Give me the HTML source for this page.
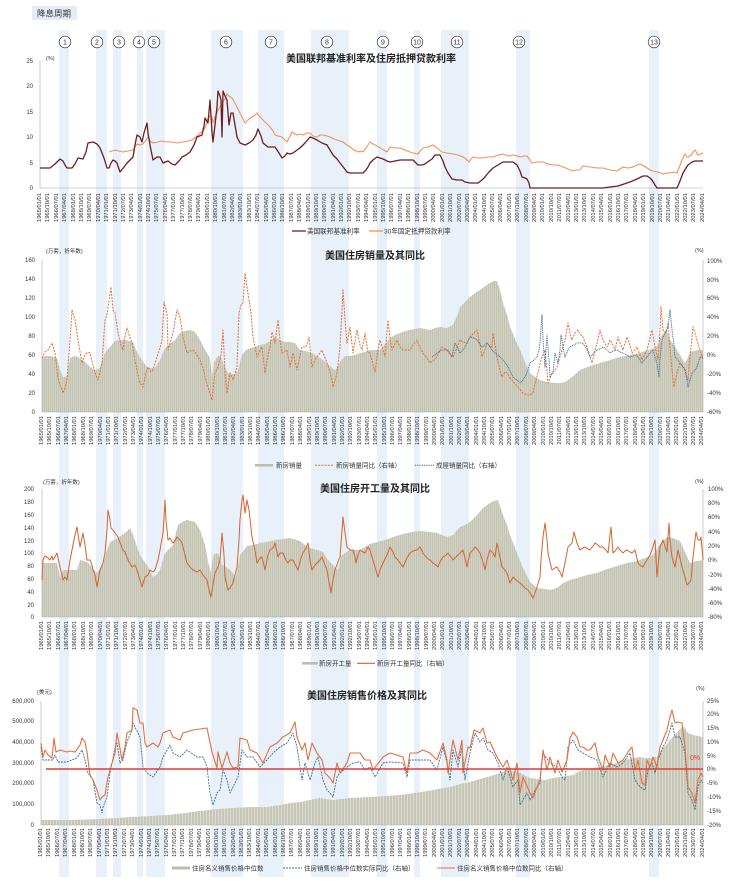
<!DOCTYPE html>
<html><head><meta charset="utf-8">
<style>
html,body{margin:0;padding:0;background:#fff;}
body{width:740px;height:886px;position:relative;overflow:hidden;font-family:"Liberation Sans","Noto Sans CJK SC",sans-serif;}
svg{position:absolute;left:0;top:0;}
.xl{position:absolute;display:flex;justify-content:space-between;align-items:flex-start;height:32px;}
.xl span{display:block;writing-mode:vertical-rl;transform:rotate(180deg);font-size:5.8px;line-height:6px;width:6px;color:#333;white-space:nowrap;}
</style></head><body>
<svg width="740" height="886" viewBox="0 0 740 886" xmlns="http://www.w3.org/2000/svg" font-family="Liberation Sans, Noto Sans CJK SC, sans-serif">
<defs>
<pattern id="bp" width="2" height="10" patternUnits="userSpaceOnUse"><rect width="2" height="10" fill="#d8d8cc"/><rect width="1.3" height="10" fill="#c3c3b3"/></pattern>
<pattern id="bp4" width="3" height="10" patternUnits="userSpaceOnUse"><rect width="3" height="10" fill="#e2e2d8"/><rect width="2.2" height="10" fill="#c6c6b7"/></pattern>
</defs>
<!-- bands -->
<g fill="#e8f0f9">
<rect x="59" y="30" width="10" height="847"/>
<rect x="96" y="30" width="11" height="847"/>
<rect x="113" y="30" width="8" height="847"/>
<rect x="137" y="30" width="6" height="847"/>
<rect x="146" y="30" width="19" height="847"/>
<rect x="211" y="30" width="32" height="847"/>
<rect x="258" y="30" width="26" height="847"/>
<rect x="311" y="30" width="38" height="847"/>
<rect x="377" y="30" width="10" height="847"/>
<rect x="414" y="30" width="6" height="847"/>
<rect x="441" y="30" width="28" height="847"/>
<rect x="516" y="30" width="14" height="847"/>
<rect x="649" y="30" width="10" height="847"/>
</g>
<!-- header label -->
<rect x="32" y="6" width="45" height="14" fill="#e4ecf5"/>
<text x="37" y="16.5" font-size="8.5" fill="#333">降息周期</text>
<!-- circles -->
<g fill="#fff" stroke="#333" stroke-width="0.7">
<circle cx="65" cy="42" r="5.8"/><circle cx="97" cy="42" r="5.8"/><circle cx="119" cy="42" r="5.8"/><circle cx="139" cy="42" r="5.8"/><circle cx="154" cy="42" r="5.8"/><circle cx="226" cy="42" r="5.8"/><circle cx="271" cy="42" r="5.8"/><circle cx="327" cy="42" r="5.8"/><circle cx="383" cy="42" r="5.8"/><circle cx="417" cy="42" r="5.8"/><circle cx="457" cy="42" r="5.8"/><circle cx="519" cy="42" r="5.8"/><circle cx="654" cy="42" r="5.8"/>
</g>
<g font-size="7" fill="#333" text-anchor="middle">
<text x="65" y="44.5">1</text><text x="97" y="44.5">2</text><text x="119" y="44.5">3</text><text x="139" y="44.5">4</text><text x="154" y="44.5">5</text><text x="226" y="44.5">6</text><text x="271" y="44.5">7</text><text x="327" y="44.5">8</text><text x="383" y="44.5">9</text><text x="417" y="44.5">10</text><text x="457" y="44.5">11</text><text x="519" y="44.5">12</text><text x="654" y="44.5">13</text>
</g>

<!-- ================= CHART 1 ================= -->
<text x="371" y="62" font-size="10" font-weight="bold" fill="#222" text-anchor="middle">美国联邦基准利率及住房抵押贷款利率</text>
<text x="46" y="60" font-size="5.5" fill="#333">(%)</text>
<g font-size="6" fill="#333" text-anchor="end">
<text x="33" y="63">25</text><text x="33" y="88">20</text><text x="33" y="114">15</text><text x="33" y="139">10</text><text x="33" y="165">5</text><text x="33" y="190">0</text>
</g>
<line x1="40" y1="61" x2="40" y2="188" stroke="#aaa" stroke-width="0.6"/>
<line x1="40" y1="188" x2="703" y2="188" stroke="#aaa" stroke-width="0.6"/>
<polyline fill="none" stroke="#f0915a" stroke-width="1.1" stroke-linejoin="round" points="109,152 112,151 115,150 119,151 123,152 128,151 133,150 137,144 140,145 143,144 146,140 148,137 150,141 153,143 158,142 162,141 167,142 172,142 177,143 183,142 188,141 192,140 196,137 200,133 203,131 205,128 207,122 208,118 210,116 212,117 213,123 215,117 218,110 220,107 222,103 225,99 227,94 229,96 232,98 236,105 240,113 243,119 245,123 248,120 250,118 254,116 257,113 260,117 263,120 266,123 270,127 273,131 275,135 278,136 282,137 285,140 287,142 290,136 292,132 295,134 297,135 300,134 303,135 307,133 310,133 313,136 317,137 320,135 323,135 327,136 330,137 334,139 337,140 340,141 343,142 347,145 350,147 354,150 358,152 361,151 363,152 366,148 368,145 370,142 373,144 377,146 382,149 387,152 390,147 395,148 400,148 405,150 410,152 413,153 418,154 421,150 423,148 428,147 433,145 437,148 442,152 447,153 453,154 458,155 463,157 466,159 469,162 471,159 473,157 478,158 483,158 488,157 493,157 498,155 503,154 508,156 513,155 517,156 520,157 524,156 527,156 530,160 532,163 537,162 543,162 548,164 553,165 558,165 563,167 568,169 573,171 577,170 580,170 582,167 583,166 590,167 597,168 603,168 610,170 617,171 620,169 623,167 628,168 633,167 637,165 640,164 644,166 647,168 650,170 653,171 658,172 663,174 667,173 670,173 674,172 677,173 679,168 682,160 684,156 685,154 687,157 688,157 691,155 693,152 695,150 697,153 698,155 701,154 703,153"/>
<polyline fill="none" stroke="#6d1f1f" stroke-width="1.3" stroke-linejoin="round" points="40,168 45,168 50,168 55,164 60,159 63,161 65,165 67,168 72,168 75,164 78,158 83,159 86,152 88,143 93,142 97,144 100,148 104,158 107,168 109,168 111,163 113,160 115,161 117,163 120,172 124,167 127,163 130,160 133,157 135,145 137,135 140,137 142,142 144,133 147,123 148,133 150,145 153,160 157,157 160,157 163,163 168,161 172,164 175,165 179,161 182,157 186,155 190,152 194,145 197,137 202,135 204,126 205,118 208,123 210,100 211,117 212,132 213,142 215,125 217,107 218,91 220,96 221,100 222,137 223,91 225,96 227,100 229,125 231,113 233,113 235,125 237,137 240,143 245,145 249,143 253,140 256,135 258,129 261,136 263,143 268,147 272,147 275,147 279,153 282,158 285,156 287,153 290,154 293,153 297,150 300,148 305,143 310,137 313,138 317,140 322,143 327,145 330,150 333,155 337,159 340,163 344,168 347,172 350,173 353,173 358,173 363,173 366,170 368,167 370,163 373,160 377,157 380,158 383,159 387,161 390,162 395,161 400,160 406,160 413,160 416,163 418,165 422,165 425,164 429,161 432,159 435,155 440,155 443,161 445,167 448,173 452,179 457,180 462,180 465,182 470,183 474,183 478,183 482,180 485,177 489,172 493,168 498,165 503,162 508,162 513,162 517,165 520,171 522,177 525,178 527,179 529,183 530,188 560,188 590,188 603,188 610,187 618,186 624,184 630,182 637,179 643,176 647,176 650,178 652,180 655,185 657,188 667,188 677,188 680,181 683,173 686,168 688,165 692,162 695,161 700,161 703,161"/>
<!-- legend 1 -->
<line x1="292" y1="231" x2="306" y2="231" stroke="#6d1f1f" stroke-width="1.3"/>
<text x="307" y="233.5" font-size="6.6" fill="#333">美国联邦基准利率</text>
<line x1="369" y1="231" x2="383" y2="231" stroke="#f0915a" stroke-width="1.3"/>
<text x="384" y="233.5" font-size="6.6" fill="#333">30年固定抵押贷款利率</text>

<!-- ================= CHART 2 ================= -->
<text x="375" y="259" font-size="10" font-weight="bold" fill="#222" text-anchor="middle">美国住房销量及其同比</text>
<text x="46" y="253" font-size="5.5" fill="#333">(万套，折年数)</text>
<text x="695" y="252" font-size="5.5" fill="#333">(%)</text>
<polygon fill="url(#bp)" points="42,357 46,356 50,356 54,357 57,358 60,370 63,377 67,376 70,358 74,356 78,357 82,360 85,362 90,367 95,370 100,368 104,355 107,350 110,347 115,341 120,340 125,340 129,341 133,342 137,352 142,360 147,367 151,368 155,368 160,360 165,348 170,344 175,340 180,333 185,331 190,330 195,332 200,340 205,350 210,358 212,377 214,362 217,357 220,355 224,365 228,373 232,374 235,374 238,370 242,355 246,350 250,348 255,347 260,345 265,344 270,341 275,337 280,340 285,342 290,342 295,343 300,350 305,351 310,352 315,355 320,358 324,361 328,364 332,368 335,370 338,366 340,362 345,356 350,356 355,355 360,353 365,352 370,350 375,350 380,350 385,344 390,338 395,335 400,333 405,331 410,330 415,329 420,328 425,329 430,330 435,328 440,327 447,328 453,325 457,316 460,307 465,302 470,297 475,293 480,290 485,286 490,283 494,281 497,281 500,290 503,303 507,315 510,327 515,339 520,350 525,362 530,373 535,377 540,380 547,382 555,383 560,383 565,382 572,377 580,370 590,366 600,363 610,360 620,357 630,355 640,353 645,351 650,350 655,348 658,345 660,338 662,335 666,330 668,334 670,340 675,347 680,355 685,363 688,357 690,352 697,350 703,350 703,412 42,412"/>
<line x1="42" y1="260" x2="42" y2="412" stroke="#aaa" stroke-width="0.6"/>
<line x1="703" y1="260" x2="703" y2="412" stroke="#aaa" stroke-width="0.6"/>
<line x1="42" y1="412" x2="703" y2="412" stroke="#aaa" stroke-width="0.6"/>
<g font-size="6" fill="#333" text-anchor="end">
<text x="35" y="262">160</text><text x="35" y="281">140</text><text x="35" y="300">120</text><text x="35" y="319">100</text><text x="35" y="338">80</text><text x="35" y="357">60</text><text x="35" y="376">40</text><text x="35" y="395">20</text><text x="35" y="414">0</text>
</g>
<g font-size="6" fill="#333">
<text x="707" y="263">100%</text><text x="707" y="282">80%</text><text x="707" y="300">60%</text><text x="707" y="319">40%</text><text x="707" y="338">20%</text><text x="707" y="357">0%</text><text x="707" y="376">-20%</text><text x="707" y="395">-40%</text><text x="707" y="414">-60%</text>
</g>
<polyline fill="none" stroke="#e0703a" stroke-width="1" stroke-dasharray="2,1.2" stroke-linejoin="round" points="42,358 45,352 48,350 52,343 55,353 58,378 60,385 62,390 63,393 65,388 67,380 70,340 72,310 75,320 78,340 82,363 85,355 88,352 90,353 93,365 95,373 98,380 102,363 105,320 107,315 109,300 111,287 113,310 115,313 118,333 121,345 123,350 125,336 127,328 130,338 132,343 135,360 138,375 140,383 143,387 146,373 148,367 151,372 153,370 157,357 160,348 162,340 164,302 167,313 168,350 171,340 173,333 177,310 180,317 183,337 187,353 190,351 193,350 197,355 200,360 203,368 205,377 208,387 212,400 215,373 218,367 221,355 223,330 225,373 227,393 230,373 233,380 237,367 239,313 241,305 243,303 245,273 247,287 249,300 251,313 253,337 257,357 260,350 262,347 265,373 268,355 270,347 272,332 275,343 278,320 280,340 282,353 285,351 287,350 290,367 293,353 297,370 300,355 302,347 306,347 309,337 312,367 315,360 317,357 322,350 327,363 330,372 332,380 333,387 337,373 340,347 342,310 343,290 345,320 347,343 350,327 353,353 357,330 360,345 362,350 365,333 368,353 370,353 373,365 375,372 378,350 380,340 383,350 385,357 388,320 390,338 392,350 395,344 397,340 400,347 403,350 407,350 410,350 413,345 417,340 420,348 423,353 427,358 430,363 434,360 437,357 440,350 442,347 445,349 447,350 450,354 453,357 457,348 460,340 463,342 467,343 470,337 474,333 477,330 480,345 482,357 485,350 487,343 490,346 492,347 493,333 495,345 497,357 500,370 502,377 505,372 507,373 510,378 512,380 515,384 518,387 521,391 523,393 527,395 530,395 533,393 536,380 538,373 540,364 542,357 545,350 548,383 550,378 552,373 555,370 557,367 560,357 562,350 565,340 568,323 570,333 572,340 575,333 578,330 580,334 583,337 586,345 588,350 590,357 592,363 595,350 597,343 600,330 603,340 607,347 610,340 613,345 615,350 618,337 620,343 623,350 625,343 627,337 630,345 632,353 635,350 637,347 640,355 642,360 645,354 647,350 650,338 652,330 655,347 658,360 660,330 661,307 663,330 666,333 668,323 670,348 672,370 674,387 677,373 680,363 683,367 685,370 688,380 690,357 693,327 695,333 697,340 700,350 703,360"/>
<polyline fill="none" stroke="#3f6e8e" stroke-width="1" stroke-dasharray="1,0.8" stroke-linejoin="round" points="432,357 435,355 437,353 440,351 442,350 445,350 448,350 452,357 455,343 458,349 460,353 463,350 465,347 468,341 470,337 474,338 477,340 480,344 482,347 485,345 487,343 490,347 492,350 495,353 498,355 500,357 503,360 506,364 508,367 511,373 513,377 517,380 520,383 523,380 525,377 528,370 530,363 534,360 537,357 539,350 540,343 541,328 542,315 543,340 545,367 546,350 547,335 549,360 550,377 553,373 555,353 557,360 558,363 560,350 561,335 563,347 565,357 568,350 570,347 574,345 577,343 580,343 583,343 587,350 590,357 594,353 597,350 600,349 603,347 607,350 610,353 613,351 617,350 620,352 623,353 627,355 630,357 633,356 637,355 640,360 642,363 645,359 647,357 650,353 653,350 655,357 657,363 659,377 660,358 662,340 665,333 668,327 670,310 672,330 674,345 675,357 678,360 680,363 683,367 685,370 687,380 688,387 690,380 692,373 695,370 697,367 700,357 703,357"/>
<!-- legend 2 -->
<rect x="255" y="464" width="18" height="2.6" fill="#bdbdad"/>
<text x="276" y="467.5" font-size="6.5" fill="#333">新房销量</text>
<line x1="315" y1="465.3" x2="333" y2="465.3" stroke="#e0703a" stroke-width="1" stroke-dasharray="2,1.2"/>
<text x="336" y="467.5" font-size="6.5" fill="#333">新房销量同比（右轴）</text>
<line x1="415" y1="465.3" x2="434" y2="465.3" stroke="#3f6e8e" stroke-width="1" stroke-dasharray="1,0.8"/>
<text x="436" y="467.5" font-size="6.5" fill="#333">成屋销量同比（右轴）</text>

<!-- ================= CHART 3 ================= -->
<text x="375" y="492" font-size="10" font-weight="bold" fill="#222" text-anchor="middle">美国住房开工量及其同比</text>
<text x="43" y="484" font-size="5.5" fill="#333">(万套，折年数)</text>
<text x="695" y="483" font-size="5.5" fill="#333">(%)</text>
<polygon fill="url(#bp)" points="42,563 50,563 57,563 60,578 63,570 70,570 77,570 80,560 87,562 92,567 97,573 103,565 106,553 110,542 114,540 118,538 122,535 125,533 130,528 133,535 137,547 140,555 143,560 147,565 153,577 157,574 160,570 165,553 169,549 173,545 178,525 182,522 187,520 191,521 195,522 200,530 205,545 208,562 211,573 213,555 218,553 222,565 226,567 230,570 236,577 240,555 247,546 253,545 260,543 267,542 275,540 283,539 290,538 300,541 305,545 310,548 317,550 323,552 328,560 333,565 338,570 341,556 345,553 350,550 355,550 360,550 365,547 370,544 377,542 385,540 393,537 403,534 412,532 420,531 430,532 437,533 442,535 447,537 453,535 460,527 465,525 470,522 477,515 483,508 490,503 494,501 498,500 503,515 507,525 510,535 517,553 523,568 530,582 537,588 545,589 550,590 557,588 563,583 570,580 577,578 587,575 597,573 607,569 617,566 627,563 637,561 645,558 653,555 657,549 660,544 667,537 673,538 680,541 685,552 690,563 697,561 703,560 703,617 42,617"/>
<line x1="42" y1="489" x2="42" y2="617" stroke="#aaa" stroke-width="0.6"/>
<line x1="703" y1="489" x2="703" y2="617" stroke="#aaa" stroke-width="0.6"/>
<line x1="42" y1="617" x2="703" y2="617" stroke="#aaa" stroke-width="0.6"/>
<g font-size="6" fill="#333" text-anchor="end">
<text x="34" y="491">200</text><text x="34" y="504">180</text><text x="34" y="517">160</text><text x="34" y="530">140</text><text x="34" y="543">120</text><text x="34" y="555">100</text><text x="34" y="568">80</text><text x="34" y="581">60</text><text x="34" y="594">40</text><text x="34" y="607">20</text><text x="34" y="619">0</text>
</g>
<g font-size="6" fill="#333">
<text x="708" y="491">100%</text><text x="708" y="505">80%</text><text x="708" y="519">60%</text><text x="708" y="534">40%</text><text x="708" y="548">20%</text><text x="708" y="562">0%</text><text x="708" y="577">-20%</text><text x="708" y="591">-40%</text><text x="708" y="605">-60%</text><text x="708" y="619">-80%</text>
</g>
<polyline fill="none" stroke="#d2642e" stroke-width="1" stroke-linejoin="round" points="42,580 43,560 45,556 47,557 50,560 52,556 53,560 55,557 57,553 60,567 63,580 65,577 67,580 70,560 72,550 75,535 77,527 80,547 83,533 85,545 87,560 90,560 92,565 93,570 95,575 97,587 100,570 103,563 105,553 107,530 108,510 110,520 111,528 113,530 115,533 118,537 121,545 123,550 125,552 128,560 132,567 135,565 137,570 140,580 142,587 145,577 148,575 150,570 153,572 155,570 158,560 160,550 163,533 164,518 165,500 166,520 168,540 170,538 173,543 175,541 177,537 180,540 182,543 185,555 187,563 190,567 193,570 197,572 200,570 203,575 207,580 209,590 211,597 213,585 215,573 218,567 220,560 222,533 224,555 225,577 228,590 230,588 233,583 235,575 237,567 239,540 240,520 242,500 243,495 245,513 247,500 249,510 252,537 255,550 257,563 260,558 262,557 265,570 268,555 270,550 273,548 275,543 278,557 280,553 283,553 286,560 288,563 290,560 293,560 296,566 298,570 301,558 303,553 306,548 308,543 310,560 312,570 315,565 317,563 320,560 322,557 325,565 327,570 329,582 331,593 333,580 335,570 338,562 340,557 342,530 343,517 345,533 347,547 350,550 353,550 355,557 356,563 358,555 360,550 363,552 365,553 368,547 370,550 373,560 375,567 378,577 380,570 383,563 387,555 390,547 393,552 395,557 398,560 400,563 403,567 407,558 410,553 413,551 417,550 420,547 423,553 427,558 430,560 433,563 436,565 438,567 440,562 443,557 446,555 448,553 451,557 453,560 456,557 458,555 461,552 463,550 465,558 467,567 470,553 473,550 475,547 478,550 480,553 483,562 485,570 487,560 490,550 493,553 495,557 497,543 500,557 502,567 505,570 507,573 510,583 513,577 516,580 520,583 523,586 525,588 528,590 530,593 533,598 535,593 537,587 540,577 541,560 543,537 545,523 547,540 548,553 550,562 552,570 555,568 557,567 560,572 562,577 565,563 568,547 570,545 572,543 574,532 577,543 580,550 583,548 585,547 588,549 590,550 593,546 595,543 598,545 600,547 603,547 606,550 608,553 610,535 611,527 613,553 616,550 618,547 620,550 623,553 625,551 627,550 630,552 632,553 635,550 638,563 640,565 643,567 645,563 647,560 650,555 652,550 655,540 657,577 660,547 663,540 665,546 667,552 669,523 670,540 672,557 675,567 678,550 680,558 682,567 685,577 687,585 689,583 691,580 693,557 695,540 696,532 698,540 700,540 701,537 703,560"/>
<!-- legend 3 -->
<rect x="302" y="662" width="16" height="2.6" fill="#bdbdad"/>
<text x="319" y="665.5" font-size="6.5" fill="#333">新房开工量</text>
<line x1="357" y1="663.3" x2="375" y2="663.3" stroke="#d2642e" stroke-width="1.1"/>
<text x="377" y="665.5" font-size="6.5" fill="#333">新房开工量同比（右轴）</text>

<!-- ================= CHART 4 ================= -->
<text x="367" y="699" font-size="10" font-weight="bold" fill="#222" text-anchor="middle">美国住房销售价格及其同比</text>
<text x="37" y="694" font-size="5.5" fill="#333">(美元)</text>
<text x="696" y="690" font-size="5.5" fill="#333">(%)</text>
<polygon fill="url(#bp4)" points="41,820 70,820 100,819 133,817 167,815 185,813 200,811 217,809 233,808 250,807 267,807 280,805 290,803 300,802 310,800 320,798 333,800 350,798 370,797 385,796 400,795 415,793 433,790 450,787 460,784 470,782 480,779 487,777 494,775 500,773 507,770 513,771 520,773 530,778 538,779 545,780 553,778 560,777 567,776 573,775 578,772 583,770 592,768 600,767 608,765 617,763 625,760 633,758 640,757 645,758 650,758 657,757 660,752 663,748 667,744 670,740 674,736 677,733 680,729 683,726 686,730 688,733 693,735 698,736 703,737 703,825 41,825"/>
<line x1="41" y1="701" x2="41" y2="825" stroke="#aaa" stroke-width="0.6"/>
<line x1="703" y1="701" x2="703" y2="825" stroke="#aaa" stroke-width="0.6"/>
<line x1="41" y1="825" x2="703" y2="825" stroke="#aaa" stroke-width="0.6"/>
<g font-size="6" fill="#333" text-anchor="end">
<text x="34" y="703">600,000</text><text x="34" y="723">500,000</text><text x="34" y="744">400,000</text><text x="34" y="765">300,000</text><text x="34" y="785">200,000</text><text x="34" y="806">100,000</text><text x="34" y="827">0</text>
</g>
<g font-size="6" fill="#333">
<text x="707" y="703">25%</text><text x="707" y="716">20%</text><text x="707" y="730">15%</text><text x="707" y="744">10%</text><text x="707" y="758">5%</text><text x="707" y="771">0%</text><text x="707" y="785">-5%</text><text x="707" y="799">-10%</text><text x="707" y="813">-15%</text><text x="707" y="827">-20%</text>
</g>
<polyline fill="none" stroke="#3f6e8e" stroke-width="0.9" stroke-dasharray="2,1" stroke-linejoin="round" points="41,747 43,760 48,760 53,760 55,755 58,762 67,762 77,758 82,750 85,760 88,773 93,780 97,803 100,805 102,813 103,807 107,797 110,773 115,748 117,743 120,763 123,760 127,742 132,730 133,723 140,737 143,767 147,773 153,777 160,767 163,757 170,745 173,753 180,757 187,750 197,757 203,757 207,767 210,793 213,805 217,793 220,790 223,770 227,780 230,793 233,787 238,777 242,750 247,757 253,757 260,767 267,760 273,753 280,747 287,743 293,733 297,747 302,780 305,763 310,780 315,763 318,757 323,780 327,790 330,793 333,797 337,777 340,773 347,767 353,763 360,762 365,770 370,767 375,777 383,763 390,762 403,763 407,777 410,760 420,760 430,760 437,770 443,747 447,763 450,780 453,750 458,767 462,747 465,780 470,753 475,733 480,742 483,738 488,750 493,753 498,763 503,780 507,767 513,787 518,780 520,805 527,793 530,800 535,790 540,783 543,753 550,763 557,767 562,777 565,780 568,747 573,740 578,750 583,753 590,757 597,760 603,777 610,763 617,767 623,763 630,753 635,780 640,787 645,790 648,770 652,763 655,773 658,760 663,747 667,740 672,723 675,737 680,737 685,753 688,793 692,800 695,810 698,787 701,780 703,783"/>
<polyline fill="none" stroke="#e07040" stroke-width="1.1" stroke-linejoin="round" points="41,743 43,757 45,750 48,755 52,758 54,738 56,752 60,750 67,752 70,751 75,752 80,745 82,738 85,742 87,752 90,775 93,780 97,790 100,800 102,797 105,795 108,777 112,763 115,753 117,733 119,743 122,760 125,747 127,733 132,730 133,708 137,710 140,723 143,723 145,743 147,747 153,743 158,747 160,743 163,733 170,730 173,737 180,740 183,733 193,730 207,728 212,752 217,768 218,752 222,768 227,752 230,763 233,768 238,767 240,738 247,740 250,750 257,753 263,763 270,747 277,743 283,737 290,733 295,722 297,737 302,750 305,743 308,760 312,743 317,753 322,760 325,773 330,778 333,783 337,763 340,773 347,763 350,753 360,753 365,760 370,760 373,770 383,757 390,753 403,757 407,773 410,753 417,753 423,750 430,753 437,760 443,743 447,760 448,773 453,740 458,760 462,740 463,773 468,747 470,748 474,730 480,733 483,728 487,743 490,742 497,757 503,767 507,760 510,770 513,780 517,763 520,793 523,777 530,793 533,798 537,787 540,780 543,750 547,770 550,757 555,773 558,760 562,772 567,760 570,738 573,732 577,737 580,747 583,747 587,750 590,750 595,743 598,757 603,770 605,755 610,767 613,753 618,763 623,760 628,752 632,747 635,770 638,760 642,783 645,785 647,760 650,767 653,757 657,767 660,747 663,740 667,730 670,717 672,710 675,723 678,722 682,723 685,747 688,787 692,793 695,803 698,780 701,773 703,777"/>
<line x1="46" y1="769" x2="703" y2="769" stroke="#e53935" stroke-width="1.5"/>
<text x="690" y="760" font-size="7" fill="#e53935">0%</text>
<!-- legend 4 -->
<rect x="172" y="866.5" width="18" height="3" fill="#bdbdad"/>
<text x="192" y="870.5" font-size="6.5" fill="#333">住房名义销售价格中位数</text>
<line x1="283" y1="868" x2="302" y2="868" stroke="#3f6e8e" stroke-width="0.9" stroke-dasharray="2,1"/>
<text x="304" y="870.5" font-size="6.5" fill="#333">住房销售价格中位数实际同比（右轴）</text>
<line x1="437" y1="868" x2="455" y2="868" stroke="#e07040" stroke-width="1.1"/>
<text x="457" y="870.5" font-size="6.5" fill="#333">住房名义销售价格中位数同比（右轴）</text>
</svg>

<div class="xl" style="left:37px;top:193px;width:669px;"><span>1965/01/01</span><span>1965/10/01</span><span>1966/07/01</span><span>1967/04/01</span><span>1968/01/01</span><span>1968/10/01</span><span>1969/07/01</span><span>1970/04/01</span><span>1971/01/01</span><span>1971/10/01</span><span>1972/07/01</span><span>1973/04/01</span><span>1974/01/01</span><span>1974/10/01</span><span>1975/07/01</span><span>1976/04/01</span><span>1977/01/01</span><span>1977/10/01</span><span>1978/07/01</span><span>1979/04/01</span><span>1980/01/01</span><span>1980/10/01</span><span>1981/07/01</span><span>1982/04/01</span><span>1983/01/01</span><span>1983/10/01</span><span>1984/07/01</span><span>1985/04/01</span><span>1986/01/01</span><span>1986/10/01</span><span>1987/07/01</span><span>1988/04/01</span><span>1989/01/01</span><span>1989/10/01</span><span>1990/07/01</span><span>1991/04/01</span><span>1992/01/01</span><span>1992/10/01</span><span>1993/07/01</span><span>1994/04/01</span><span>1995/01/01</span><span>1995/10/01</span><span>1996/07/01</span><span>1997/04/01</span><span>1998/01/01</span><span>1998/10/01</span><span>1999/07/01</span><span>2000/04/01</span><span>2001/01/01</span><span>2001/10/01</span><span>2002/07/01</span><span>2003/04/01</span><span>2004/01/01</span><span>2004/10/01</span><span>2005/07/01</span><span>2006/04/01</span><span>2007/01/01</span><span>2007/10/01</span><span>2008/07/01</span><span>2009/04/01</span><span>2010/01/01</span><span>2010/10/01</span><span>2011/07/01</span><span>2012/04/01</span><span>2013/01/01</span><span>2013/10/01</span><span>2014/07/01</span><span>2015/04/01</span><span>2016/01/01</span><span>2016/10/01</span><span>2017/07/01</span><span>2018/04/01</span><span>2019/01/01</span><span>2019/10/01</span><span>2020/07/01</span><span>2021/04/01</span><span>2022/01/01</span><span>2022/10/01</span><span>2023/07/01</span><span>2024/04/01</span></div>

<div class="xl" style="left:39px;top:416px;width:667px;"><span>1965/01/01</span><span>1965/10/01</span><span>1966/07/01</span><span>1967/04/01</span><span>1968/01/01</span><span>1968/10/01</span><span>1969/07/01</span><span>1970/04/01</span><span>1971/01/01</span><span>1971/10/01</span><span>1972/07/01</span><span>1973/04/01</span><span>1974/01/01</span><span>1974/10/01</span><span>1975/07/01</span><span>1976/04/01</span><span>1977/01/01</span><span>1977/10/01</span><span>1978/07/01</span><span>1979/04/01</span><span>1980/01/01</span><span>1980/10/01</span><span>1981/07/01</span><span>1982/04/01</span><span>1983/01/01</span><span>1983/10/01</span><span>1984/07/01</span><span>1985/04/01</span><span>1986/01/01</span><span>1986/10/01</span><span>1987/07/01</span><span>1988/04/01</span><span>1989/01/01</span><span>1989/10/01</span><span>1990/07/01</span><span>1991/04/01</span><span>1992/01/01</span><span>1992/10/01</span><span>1993/07/01</span><span>1994/04/01</span><span>1995/01/01</span><span>1995/10/01</span><span>1996/07/01</span><span>1997/04/01</span><span>1998/01/01</span><span>1998/10/01</span><span>1999/07/01</span><span>2000/04/01</span><span>2001/01/01</span><span>2001/10/01</span><span>2002/07/01</span><span>2003/04/01</span><span>2004/01/01</span><span>2004/10/01</span><span>2005/07/01</span><span>2006/04/01</span><span>2007/01/01</span><span>2007/10/01</span><span>2008/07/01</span><span>2009/04/01</span><span>2010/01/01</span><span>2010/10/01</span><span>2011/07/01</span><span>2012/04/01</span><span>2013/01/01</span><span>2013/10/01</span><span>2014/07/01</span><span>2015/04/01</span><span>2016/01/01</span><span>2016/10/01</span><span>2017/07/01</span><span>2018/04/01</span><span>2019/01/01</span><span>2019/10/01</span><span>2020/07/01</span><span>2021/04/01</span><span>2022/01/01</span><span>2022/10/01</span><span>2023/07/01</span><span>2024/04/01</span></div>

<div class="xl" style="left:39px;top:621px;width:667px;"><span>1965/01/01</span><span>1965/10/01</span><span>1966/07/01</span><span>1967/04/01</span><span>1968/01/01</span><span>1968/10/01</span><span>1969/07/01</span><span>1970/04/01</span><span>1971/01/01</span><span>1971/10/01</span><span>1972/07/01</span><span>1973/04/01</span><span>1974/01/01</span><span>1974/10/01</span><span>1975/07/01</span><span>1976/04/01</span><span>1977/01/01</span><span>1977/10/01</span><span>1978/07/01</span><span>1979/04/01</span><span>1980/01/01</span><span>1980/10/01</span><span>1981/07/01</span><span>1982/04/01</span><span>1983/01/01</span><span>1983/10/01</span><span>1984/07/01</span><span>1985/04/01</span><span>1986/01/01</span><span>1986/10/01</span><span>1987/07/01</span><span>1988/04/01</span><span>1989/01/01</span><span>1989/10/01</span><span>1990/07/01</span><span>1991/04/01</span><span>1992/01/01</span><span>1992/10/01</span><span>1993/07/01</span><span>1994/04/01</span><span>1995/01/01</span><span>1995/10/01</span><span>1996/07/01</span><span>1997/04/01</span><span>1998/01/01</span><span>1998/10/01</span><span>1999/07/01</span><span>2000/04/01</span><span>2001/01/01</span><span>2001/10/01</span><span>2002/07/01</span><span>2003/04/01</span><span>2004/01/01</span><span>2004/10/01</span><span>2005/07/01</span><span>2006/04/01</span><span>2007/01/01</span><span>2007/10/01</span><span>2008/07/01</span><span>2009/04/01</span><span>2010/01/01</span><span>2010/10/01</span><span>2011/07/01</span><span>2012/04/01</span><span>2013/01/01</span><span>2013/10/01</span><span>2014/07/01</span><span>2015/04/01</span><span>2016/01/01</span><span>2016/10/01</span><span>2017/07/01</span><span>2018/04/01</span><span>2019/01/01</span><span>2019/10/01</span><span>2020/07/01</span><span>2021/04/01</span><span>2022/01/01</span><span>2022/10/01</span><span>2023/07/01</span><span>2024/04/01</span></div>

<div class="xl" style="left:38px;top:828px;width:668px;"><span>1965/01/01</span><span>1965/10/01</span><span>1966/07/01</span><span>1967/04/01</span><span>1968/01/01</span><span>1968/10/01</span><span>1969/07/01</span><span>1970/04/01</span><span>1971/01/01</span><span>1971/10/01</span><span>1972/07/01</span><span>1973/04/01</span><span>1974/01/01</span><span>1974/10/01</span><span>1975/07/01</span><span>1976/04/01</span><span>1977/01/01</span><span>1977/10/01</span><span>1978/07/01</span><span>1979/04/01</span><span>1980/01/01</span><span>1980/10/01</span><span>1981/07/01</span><span>1982/04/01</span><span>1983/01/01</span><span>1983/10/01</span><span>1984/07/01</span><span>1985/04/01</span><span>1986/01/01</span><span>1986/10/01</span><span>1987/07/01</span><span>1988/04/01</span><span>1989/01/01</span><span>1989/10/01</span><span>1990/07/01</span><span>1991/04/01</span><span>1992/01/01</span><span>1992/10/01</span><span>1993/07/01</span><span>1994/04/01</span><span>1995/01/01</span><span>1995/10/01</span><span>1996/07/01</span><span>1997/04/01</span><span>1998/01/01</span><span>1998/10/01</span><span>1999/07/01</span><span>2000/04/01</span><span>2001/01/01</span><span>2001/10/01</span><span>2002/07/01</span><span>2003/04/01</span><span>2004/01/01</span><span>2004/10/01</span><span>2005/07/01</span><span>2006/04/01</span><span>2007/01/01</span><span>2007/10/01</span><span>2008/07/01</span><span>2009/04/01</span><span>2010/01/01</span><span>2010/10/01</span><span>2011/07/01</span><span>2012/04/01</span><span>2013/01/01</span><span>2013/10/01</span><span>2014/07/01</span><span>2015/04/01</span><span>2016/01/01</span><span>2016/10/01</span><span>2017/07/01</span><span>2018/04/01</span><span>2019/01/01</span><span>2019/10/01</span><span>2020/07/01</span><span>2021/04/01</span><span>2022/01/01</span><span>2022/10/01</span><span>2023/07/01</span><span>2024/04/01</span></div>
</body></html>
